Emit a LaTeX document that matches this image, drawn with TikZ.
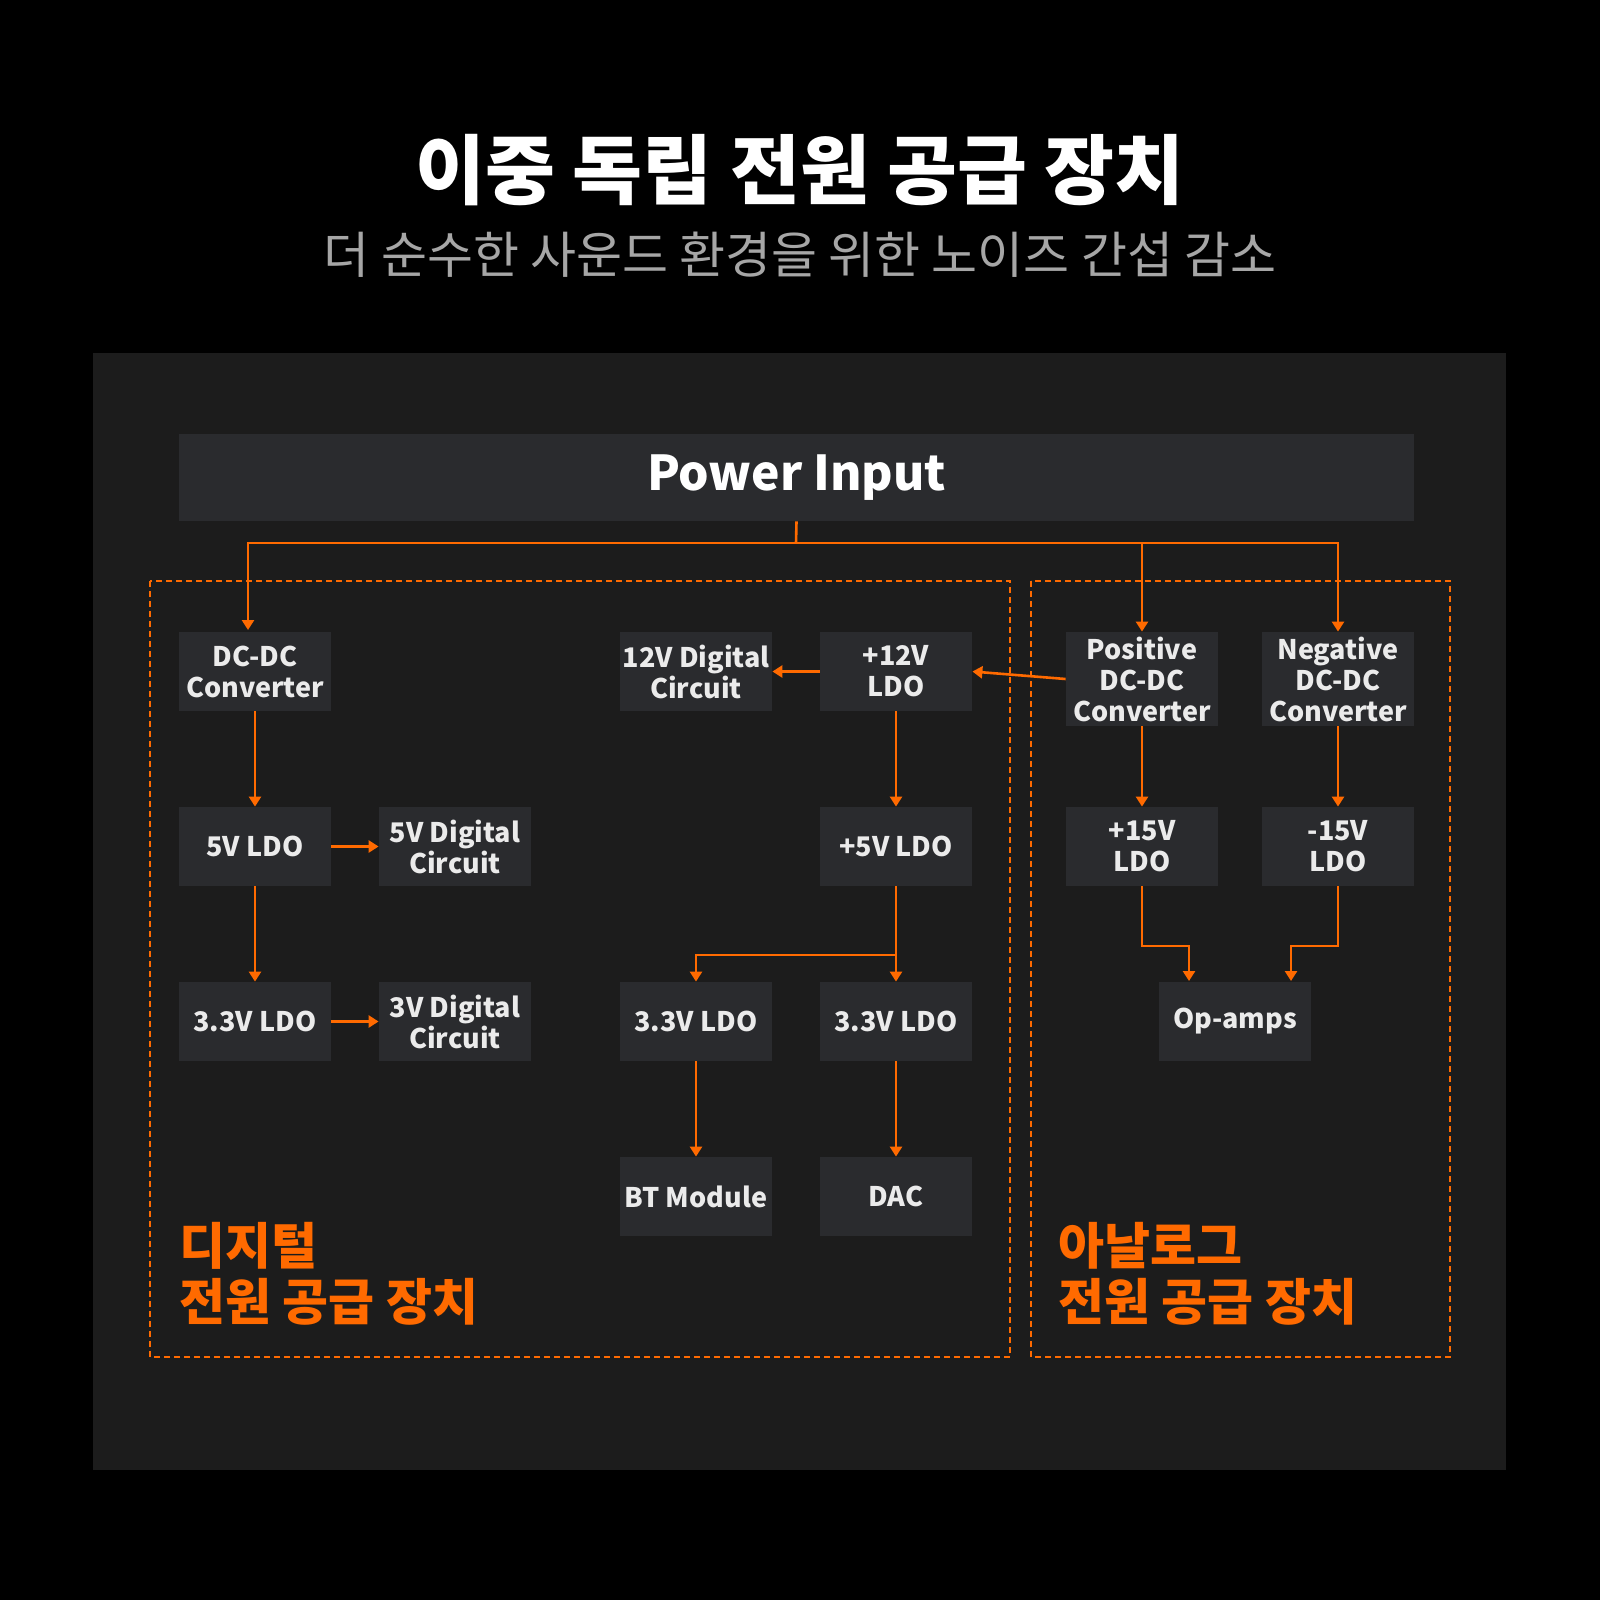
\documentclass[tikz,border=0pt]{standalone}
\usepackage{fontspec}
\setmainfont{Noto Sans CJK KR}
\usetikzlibrary{arrows.meta}
\definecolor{og}{HTML}{FF6A00}
\definecolor{panel}{HTML}{1C1C1C}
\definecolor{boxc}{HTML}{2A2B2E}
\tikzset{
  box/.style={fill=boxc,text=white!92!black,font=\fontsize{13.5}{15.5}\selectfont\bfseries,align=center,minimum width=76pt,minimum height=39.5pt,inner sep=1pt},
  tall/.style={box,minimum height=47pt},
  conn/.style={draw=og,line width=1.3pt,-{Triangle[width=6pt,length=5pt]}},
  plain/.style={draw=og,line width=1.3pt},
  zone/.style={draw=og,dashed,line width=1pt,dash pattern=on 3pt off 2pt},
  zlabel/.style={text=og,font=\fontsize{25}{28}\selectfont\bfseries,align=left,anchor=north west,inner sep=0pt}
}
\begin{document}
\begin{tikzpicture}[x=0.5pt,y=-0.5pt]
\useasboundingbox (0,0) rectangle (1600,1600);
\fill[black] (0,0) rectangle (1600,1600);
\fill[panel] (93,353) rectangle (1506,1470);
\node[text=white,font=\fontsize{38}{40}\selectfont\bfseries] (title) at (800,170) {이중 독립 전원 공급 장치};
\node[text=white!65!black,font=\fontsize{25}{28}\selectfont] (sub) at (800,255) {더 순수한 사운드 환경을 위한 노이즈 간섭 감소};
\draw[zone] (150,581) rectangle (1010,1357);
\draw[zone] (1031,581) rectangle (1450,1357);
\node[fill=boxc,text=white,font=\fontsize{24}{26}\selectfont\bfseries,minimum width=617.5pt,minimum height=43.5pt] (pin) at (796.5,477.5) {Power Input};
\node[box] (dcdc) at (255,671.5) {DC-DC\\Converter};
\node[box] (ldo5) at (255,846.5) {5V LDO};
\node[box] (dig5) at (455,846.5) {5V Digital\\Circuit};
\node[box] (ldo33) at (255,1021.5) {3.3V LDO};
\node[box] (dig3) at (455,1021.5) {3V Digital\\Circuit};
\node[box] (dig12) at (696,671.5) {12V Digital\\Circuit};
\node[box] (ldo12) at (896,671.5) {+12V\\LDO};
\node[box] (ldop5) at (896,846.5) {+5V LDO};
\node[box] (ldoa) at (696,1021.5) {3.3V LDO};
\node[box] (ldob) at (896,1021.5) {3.3V LDO};
\node[box] (bt) at (696,1196.5) {BT Module};
\node[box] (dac) at (896,1196.5) {DAC};
\node[tall] (pos) at (1142,679) {Positive\\DC-DC\\Converter};
\node[tall] (neg) at (1338,679) {Negative\\DC-DC\\Converter};
\node[box] (ldo15) at (1142,846.5) {+15V\\LDO};
\node[box] (ldom15) at (1338,846.5) {-15V\\LDO};
\node[box] (opamp) at (1235,1021.5) {Op-amps};
\coordinate (j) at (796,543);
\draw[plain] (pin.south) -- (j);
\draw[conn] (j) -| (248,630);
\draw[conn] (j) -| (pos.north);
\draw[conn] (j) -| (neg.north);
\draw[conn] (pos.west) -- (ldo12.east);
\draw[conn] (ldo12.west) -- (dig12.east);
\draw[conn] (dcdc) -- (ldo5);
\draw[conn] (ldo5) -- (ldo33);
\draw[conn] (ldo5) -- (dig5);
\draw[conn] (ldo33) -- (dig3);
\draw[conn] (ldo12) -- (ldop5);
\coordinate (k) at (896,955);
\draw[plain] (ldop5.south) -- (k);
\draw[conn] (k) -- (ldob.north);
\draw[conn] (k) -| (ldoa.north);
\draw[conn] (ldoa) -- (bt);
\draw[conn] (ldob) -- (dac);
\draw[conn] (pos) -- (ldo15);
\draw[conn] (neg) -- (ldom15);
\draw[conn] (ldo15.south) |- (1189,946) -- (1189,981);
\draw[conn] (ldom15.south) |- (1291,946) -- (1291,981);
\node[zlabel] (zl) at (179,1222) {디지털\\전원 공급 장치};
\node[zlabel] (zr) at (1058,1222) {아날로그\\전원 공급 장치};
\end{tikzpicture}
\end{document}
